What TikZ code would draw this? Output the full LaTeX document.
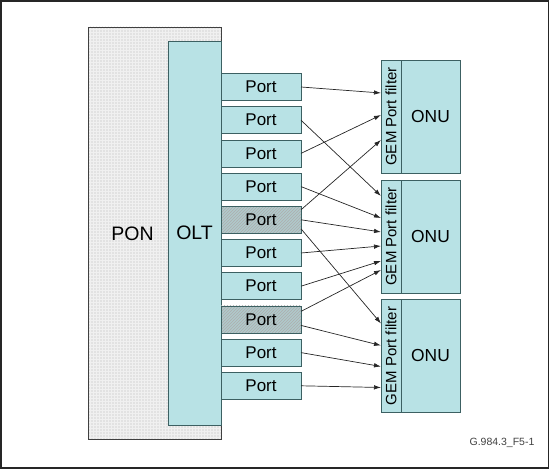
\documentclass[tikz,border=0pt]{standalone}
\usepackage{fontspec}
\setmainfont{Liberation Sans}
\usetikzlibrary{arrows.meta,patterns}

\definecolor{ponfill}{RGB}{226,226,226}
\definecolor{tealfill}{RGB}{184,226,229}
\definecolor{hatchfill}{RGB}{176,202,204}
\definecolor{tealedge}{RGB}{60,96,98}

\begin{document}
\begin{tikzpicture}[x=1pt, y=-1pt,
    ponbox/.style={fill=ponfill, postaction={pattern=grid, pattern color=black!6},
        postaction={draw=black!75, line width=0.9pt},
        minimum width=133pt, minimum height=412pt, inner sep=0pt, outer sep=0pt},
    oltbox/.style={draw=tealedge, fill=tealfill, minimum width=53pt, minimum height=384pt,
        inner sep=0pt, outer sep=0pt, font=\fontsize{19.5}{22}\selectfont},
    portbox/.style={draw=tealedge, fill=tealfill, minimum width=80pt, minimum height=27pt,
        inner sep=0pt, outer sep=0pt, font=\fontsize{17}{20}\selectfont},
    hatchport/.style={portbox, fill=hatchfill,
        postaction={pattern=north east lines, pattern color=black!32},
        postaction={draw=tealedge}},
    filterbox/.style={draw=tealedge, fill=tealfill, minimum width=20pt, minimum height=113pt,
        inner sep=0pt, outer sep=0pt},
    filtertext/.style={rotate=90, inner sep=0pt, font=\fontsize{15}{18}\selectfont},
    onubox/.style={draw=tealedge, fill=tealfill, minimum width=59pt, minimum height=113pt,
        inner sep=0pt, outer sep=0pt, font=\fontsize{17.4}{20}\selectfont},
    bigtext/.style={inner sep=0pt, font=\fontsize{19.5}{22}\selectfont},
    caption/.style={inner sep=0pt, text=black!75, font=\fontsize{10.5}{12}\selectfont},
    link/.style={-{Latex[length=7pt,width=4.5pt]}, line width=0.7pt, black!85}
]
    \useasboundingbox (0,0) rectangle (550,470);
    % outer frame
    \draw[line width=1.8pt, black!85] (1,1) rectangle (548.5,468);

    % PON and OLT
    \node[ponbox] (pon) at (154.5,233) {};
    \node[bigtext] (ponlabel) at (132.5,234) {PON};
    \node[oltbox] (olt) at (194.5,233) {OLT};

    % ports of the OLT
    \foreach \i/\st in {1/portbox,2/portbox,3/portbox,4/portbox,5/hatchport,
                        6/portbox,7/portbox,8/hatchport,9/portbox,10/portbox}
        \node[\st] (p\i) at (261,{87+33.2*(\i-1)}) {Port};

    % ONUs with their GEM port filters
    \foreach \j/\yc in {1/116.5,2/236.5,3/356}{
        \node[filterbox] (f\j) at (391,\yc) {};
        \node[filtertext] (ft\j) at (f\j) {GEM Port filter};
        \node[onubox] (onu\j) at (430.5,\yc) {ONU};
    }

    % port to filter connections
    \foreach \a/\b/\d in {1/1/33, 3/1/55, 2/2/16, 4/2/38, 6/2/66, 7/2/81, 9/3/67, 10/3/88}
        \draw[link] (p\a.east) -- ([yshift=-\d pt]f\b.north west);
    \draw[link] ([yshift=10pt]p5.east) -- ([yshift=-80pt]f1.north west);
    \draw[link] (p5.east) -- ([yshift=-52pt]f2.north west);
    \draw[link] ([yshift=-9pt]p5.east) -- ([yshift=-24pt]f3.north west);
    \draw[link] ([yshift=8pt]p8.east) -- ([yshift=-90pt]f2.north west);
    \draw[link] ([yshift=-6pt]p8.east) -- ([yshift=-46pt]f3.north west);

    % figure number
    \node[caption] (fig) at (502,443) {G.984.3\_F5-1};
\end{tikzpicture}
\end{document}
